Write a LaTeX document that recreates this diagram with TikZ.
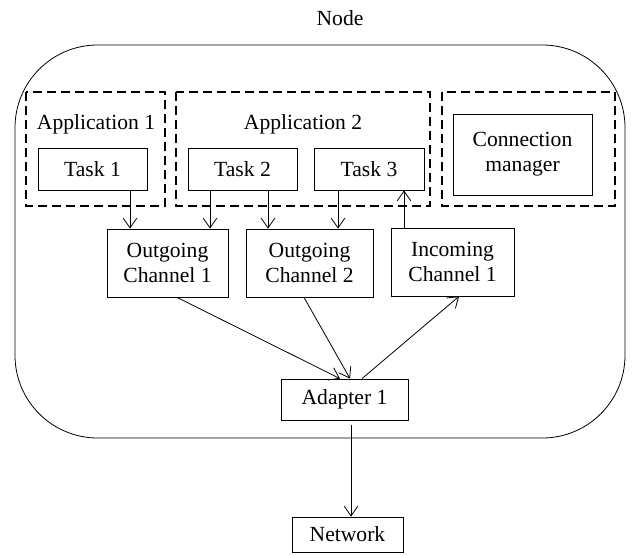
\documentclass[tikz,border=0pt]{standalone}
\usepackage{fontspec}
\setmainfont{Liberation Serif}
\usetikzlibrary{arrows.meta}
\begin{document}
\begin{tikzpicture}[x=0.75pt,y=-0.75pt,
  font=\rmfamily\fontsize{16.2}{18.8}\selectfont,
  every node/.style={inner sep=0pt},
  box/.style={draw,line width=0.6pt},
  dbox/.style={draw,line width=1.6pt,dash pattern=on 6.5pt off 4pt},
  arr/.style={draw,line width=0.6pt,-{Straight Barb[angle=70:9pt]}}]
\useasboundingbox (0,0) rectangle (632,556);
% outer node
\draw[line width=0.6pt,rounded corners=62] (15,45) rectangle (625,438);
\node (nodelbl) at (340,18) {Node};
% dashed groups
\draw[dbox] (26,92) rectangle (165,206);
\draw[dbox] (176,92) rectangle (430,206);
\draw[dbox] (442,92) rectangle (615,206);
\node (app1) at (96,124) {Application 1};
\node (app2) at (303,124) {Application 2};
% tasks
\node[box,minimum width=109*0.75pt,minimum height=42*0.75pt] (t1) at (92.5,169) {Task 1};
\node[box,minimum width=109*0.75pt,minimum height=42*0.75pt] (t2) at (242.5,169) {Task 2};
\node[box,minimum width=110*0.75pt,minimum height=42*0.75pt] (t3) at (369,169) {Task 3};
\node[box,minimum width=139*0.75pt,minimum height=81*0.75pt,align=center] (cm) at (522.5,154.5) {Connection\\manager};
% channels
\node[box,minimum width=121*0.75pt,minimum height=68*0.75pt,align=center] (oc1) at (167.5,263) {Outgoing\\Channel 1};
\node[box,minimum width=127*0.75pt,minimum height=68*0.75pt,align=center] (oc2) at (309.5,263) {Outgoing\\Channel 2};
\node[box,minimum width=123*0.75pt,minimum height=68*0.75pt,align=center] (ic1) at (452.5,262) {Incoming\\Channel 1};
\node[box,minimum width=127*0.75pt,minimum height=41*0.75pt] (ad) at (344.5,399.5) {Adapter 1};
\node[box,minimum width=111*0.75pt,minimum height=35*0.75pt] (net) at (347.5,534.5) {Network};
% arrows
\draw[arr] (t1.south -| 130,0) -- (oc1.north -| 130,0);
\draw[arr] (t2.south -| 210,0) -- (oc1.north -| 210,0);
\draw[arr] (t2.south -| 268,0) -- (oc2.north -| 268,0);
\draw[arr] (t3.south -| 338,0) -- (oc2.north -| 338,0);
\draw[arr] (ic1.north -| 404,0) -- (t3.south -| 404,0);
\draw[arr] (oc1.south -| 177,0) -- (ad.north -| 340,0);
\draw[arr] (oc2.south -| 304,0) -- (ad.north -| 350,0);
\draw[arr] (ad.north -| 362,0) -- (ic1.south -| 459,0);
\coordinate (adb) at (351,425);
\draw[arr] (adb) -- (net.north -| 351,0);
\end{tikzpicture}
\end{document}
